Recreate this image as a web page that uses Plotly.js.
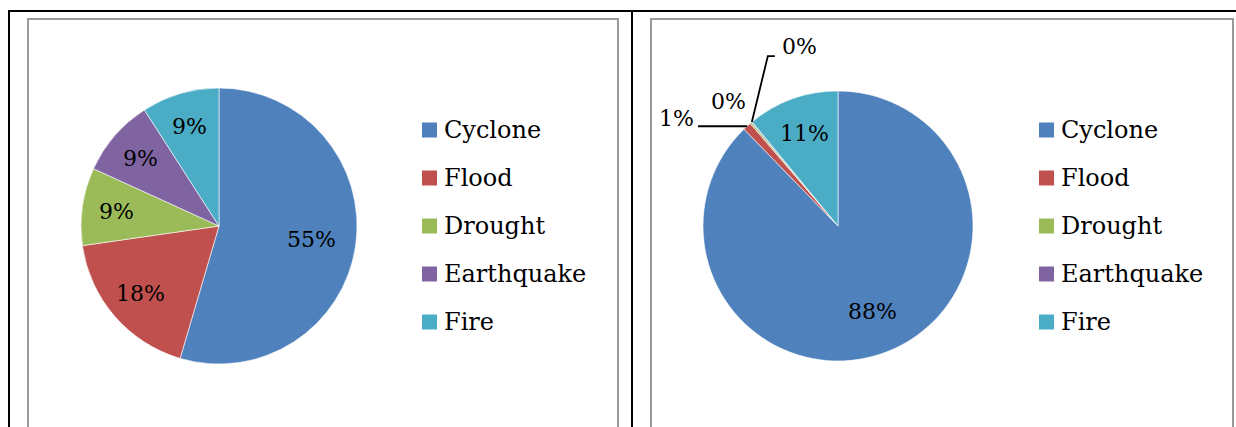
<!DOCTYPE html>
<html>
<head>
<meta charset="utf-8">
<script src="https://cdn.plot.ly/plotly-3.0.1.min.js"></script>
<style>
  html, body { margin: 0; padding: 0; background: #fff; }
  #chart { width: 1236px; height: 427px; }
</style>
</head>
<body>
<div id="chart"></div>
<script>
// Disaster categories shared by both pies
const categories = ['Cyclone', 'Flood', 'Drought', 'Earthquake', 'Fire'];
// Left pie: number of events per category
const eventCounts = [6, 2, 1, 1, 1];
// Right pie: share of impact per category
const impactShares = [88, 1, 0.2, 0.1, 11];
const sliceColors = ['#4F81BD', '#C0504D', '#9BBB59', '#8064A2', '#4BACC6'];

const W = 1236, H = 427;
const FONT = 'DejaVu Serif, Liberation Serif, serif';
const px = x => x / W;            // pixel -> paper x
const py = y => 1 - y / H;        // pixel -> paper y

// Geometry of each pie panel (pixels)
const panels = [
  { values: eventCounts, cx: 219, cy: 226, r: 138, legendX: 422, labelR: 0.75 },
  { values: impactShares, cx: 838, cy: 226, r: 135, legendX: 1039, labelR: 0.73 }
];
// Labels of tiny slices in the right pie sit outside with leader lines
const outsideLabels = {
  1: { dx: -71, dy: -8, path: [[-49, 0], [0, 0]] },
  2: { dx: -22, dy: -21, path: null },
  3: { dx: 48, dy: -76, path: [[23, -66], [16, -66], [0, 0]] }
};

const traces = [];
const annotations = [];
const shapes = [];

// Panel frames
const frameLine = { color: '#9a9a9a', width: 2 };
shapes.push({ type: 'path', xref: 'paper', yref: 'paper', line: frameLine,
  path: `M${px(28)},${py(430)} L${px(28)},${py(19)} L${px(618)},${py(19)} L${px(618)},${py(430)}` });
shapes.push({ type: 'path', xref: 'paper', yref: 'paper', line: frameLine,
  path: `M${px(651)},${py(430)} L${px(651)},${py(19)} L${px(1233)},${py(19)} L${px(1233)},${py(430)}` });
// Outer table rules
const rule = { color: '#000', width: 2 };
shapes.push({ type: 'line', xref: 'paper', yref: 'paper', x0: px(8), x1: px(1240), y0: py(11), y1: py(11), line: rule });
shapes.push({ type: 'line', xref: 'paper', yref: 'paper', x0: px(9), x1: px(9), y0: py(10), y1: py(430), line: rule });
shapes.push({ type: 'line', xref: 'paper', yref: 'paper', x0: px(632), x1: px(632), y0: py(10), y1: py(430), line: rule });

panels.forEach((p, pi) => {
  traces.push({
    type: 'pie',
    values: p.values,
    labels: categories,
    sort: false,
    direction: 'clockwise',
    rotation: 0,
    textinfo: 'none',
    hoverinfo: 'label+percent',
    marker: { colors: sliceColors, line: { color: '#ffffff', width: 0.6 } },
    domain: { x: [px(p.cx - p.r), px(p.cx + p.r)], y: [py(p.cy + p.r), py(p.cy - p.r)] },
    showlegend: false
  });

  // Percentage labels placed on each slice bisector
  const total = p.values.reduce((a, b) => a + b, 0);
  let cum = 0;
  p.values.forEach((v, i) => {
    const frac = v / total;
    const mid = (cum + frac / 2) * 2 * Math.PI;
    cum += frac;
    const text = Math.round(frac * 100) + '%';
    const ol = pi === 1 ? outsideLabels[i] : null;
    if (ol) {
      const ax = p.cx + p.r * Math.sin(mid), ay = p.cy - p.r * Math.cos(mid);
      annotations.push({ xref: 'paper', yref: 'paper', x: px(ax + ol.dx), y: py(ay + ol.dy),
        text, showarrow: false, xanchor: 'center', yanchor: 'middle',
        font: { family: FONT, size: 22, color: '#000' } });
      if (ol.path) {
        shapes.push({ type: 'path', xref: 'paper', yref: 'paper', line: { color: '#000', width: 1.8 },
          path: ol.path.map((q, k) => (k ? 'L' : 'M') + px(ax + q[0]) + ',' + py(ay + q[1])).join(' ') });
      }
    } else {
      // large slices keep their label a little closer to the centre
      const d = p.r * (frac > 0.5 ? 0.68 : p.labelR);
      annotations.push({ xref: 'paper', yref: 'paper',
        x: px(p.cx + d * Math.sin(mid)), y: py(p.cy - d * Math.cos(mid)),
        text, showarrow: false, xanchor: 'center', yanchor: 'middle',
        font: { family: FONT, size: 22, color: '#000' } });
    }
  });

  // Legend: colour swatch + category name
  categories.forEach((c, i) => {
    const yc = 130 + 48 * i;
    shapes.push({ type: 'rect', xref: 'paper', yref: 'paper',
      x0: px(p.legendX), x1: px(p.legendX + 15), y0: py(yc + 7.5), y1: py(yc - 7.5),
      fillcolor: sliceColors[i], line: { width: 0 } });
    annotations.push({ xref: 'paper', yref: 'paper', x: px(p.legendX + 20), y: py(yc),
      text: c, showarrow: false, xanchor: 'left', yanchor: 'middle',
      font: { family: FONT, size: 24, color: '#000' } });
  });
});

const layout = {
  width: W, height: H,
  margin: { l: 0, r: 0, t: 0, b: 0 },
  paper_bgcolor: '#ffffff',
  font: { family: FONT, color: '#000' },
  showlegend: false,
  shapes, annotations
};

Plotly.newPlot('chart', traces, layout, { displayModeBar: false, staticPlot: true });
</script>
</body>
</html>
